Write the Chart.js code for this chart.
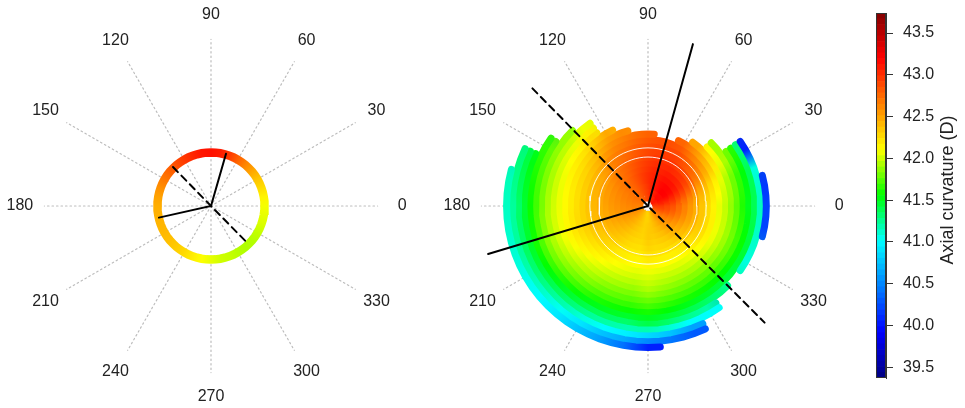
<!DOCTYPE html>
<html>
<head>
<meta charset="utf-8">
<script src="https://cdn.jsdelivr.net/npm/chart.js@4.4.1/dist/chart.umd.min.js"></script>
<style>
    body { margin: 0; background: #fff; width: 965px; height: 408px; position: relative; overflow: hidden; }
    canvas { position: absolute; top: 0; }
    #polarIzq { left: 7px; }
    #polarDer { left: 444px; }
    #barraColor { left: 860px; }
</style>
</head>
<body>
<canvas id="polarIzq" width="408" height="408"></canvas>
<canvas id="polarDer" width="408" height="408"></canvas>
<canvas id="barraColor" width="105" height="408"></canvas>
<script>
// --- DATOS ---
const angleTicks = [0, 30, 60, 90, 120, 150, 180, 210, 240, 270, 300, 330];
const cellAngles = [0, 10, 20, 30, 40, 50, 60, 70, 80, 90, 100, 110, 120, 130, 140, 150, 160, 170,
                    180, 190, 200, 210, 220, 230, 240, 250, 260, 270, 280, 290, 300, 310, 320, 330, 340, 350];

// radios de los anillos medidos (mm)
const ringRadii = [0.25, 0.42, 0.59, 0.76, 0.93, 1.10, 1.27, 1.44, 1.61, 1.78, 1.95, 2.12,
                   2.29, 2.46, 2.63, 2.80, 2.97, 3.14, 3.31, 3.48, 3.65, 3.82, 3.99, 4.16];

// curvatura axial (D) por angulo, del anillo interior al exterior
const axialByAngle = [
    [42.95, 42.95, 42.9, 42.85, 42.75, 42.65, 42.55, 42.45, 42.35, 42.25, 42.15, 42.05, 41.97, 41.87, 41.75, 41.62, 41.5, 41.38, 41.15, 40.2],
    [43.0, 43.05, 43.0, 42.95, 42.85, 42.75, 42.62, 42.5, 42.4, 42.3, 42.2, 42.1, 42.0, 41.9, 41.78, 41.65, 41.52, 41.38, 41.12, 40.15],
    [43.05, 43.1, 43.1, 43.05, 42.97, 42.88, 42.77, 42.65, 42.52, 42.4, 42.28, 42.16, 42.05, 41.93, 41.8, 41.67, 41.54, 41.38, 41.08],
    [43.1, 43.15, 43.18, 43.15, 43.08, 43.0, 42.9, 42.8, 42.68, 42.56, 42.45, 42.32, 42.18, 42.05, 41.92, 41.78, 41.62, 41.3, 40.05],
    [43.1, 43.15, 43.2, 43.18, 43.12, 43.05, 42.97, 42.88, 42.78, 42.68, 42.57, 42.44, 42.28, 42.1, 41.9],
    [43.08, 43.15, 43.2, 43.18, 43.13, 43.08, 43.0, 42.93, 42.85, 42.77, 42.68, 42.58, 42.48],
    [43.05, 43.1, 43.15, 43.15, 43.12, 43.08, 43.03, 42.98, 42.93, 42.88, 42.82, 42.76],
    [43.02, 43.05, 43.1, 43.1, 43.08, 43.05, 43.02, 42.98, 42.94, 42.9, 42.86],
    [42.98, 43.02, 43.05, 43.06, 43.05, 43.03, 43.0, 42.97, 42.93, 42.89, 42.85],
    [42.92, 42.95, 42.98, 43.0, 43.0, 42.98, 42.96, 42.93, 42.9, 42.86, 42.82, 42.78],
    [42.88, 42.9, 42.92, 42.94, 42.94, 42.92, 42.9, 42.87, 42.84, 42.8, 42.76, 42.72],
    [42.84, 42.85, 42.86, 42.87, 42.87, 42.85, 42.83, 42.8, 42.77, 42.73, 42.69, 42.65, 42.6],
    [42.8, 42.8, 42.8, 42.8, 42.8, 42.78, 42.76, 42.74, 42.71, 42.67, 42.63, 42.58, 42.53, 42.48],
    [42.76, 42.76, 42.75, 42.75, 42.74, 42.72, 42.7, 42.67, 42.64, 42.6, 42.54, 42.47, 42.4, 42.33, 42.25, 42.16, 42.07],
    [42.72, 42.72, 42.71, 42.7, 42.68, 42.66, 42.63, 42.59, 42.54, 42.48, 42.42, 42.36, 42.29, 42.22, 42.14, 42.06, 41.97, 41.88],
    [42.7, 42.7, 42.68, 42.66, 42.64, 42.61, 42.57, 42.52, 42.47, 42.41, 42.35, 42.29, 42.23, 42.17, 42.1, 42.03, 41.95, 41.86, 41.76, 41.66],
    [42.68, 42.68, 42.66, 42.64, 42.61, 42.58, 42.54, 42.49, 42.44, 42.38, 42.32, 42.26, 42.2, 42.14, 42.07, 42.0, 41.92, 41.83, 41.73, 41.63, 41.52, 41.42, 41.3],
    [42.66, 42.66, 42.64, 42.62, 42.59, 42.56, 42.52, 42.47, 42.42, 42.36, 42.3, 42.24, 42.18, 42.12, 42.06, 41.99, 41.91, 41.81, 41.7, 41.59, 41.48, 41.37, 41.26, 41.16],
    [42.64, 42.64, 42.62, 42.6, 42.57, 42.54, 42.5, 42.46, 42.41, 42.36, 42.3, 42.24, 42.18, 42.12, 42.06, 42.0, 41.92, 41.81, 41.69, 41.57, 41.45, 41.33, 41.22, 41.14],
    [42.62, 42.62, 42.6, 42.58, 42.55, 42.52, 42.48, 42.44, 42.4, 42.35, 42.3, 42.25, 42.19, 42.13, 42.07, 42.01, 41.93, 41.83, 41.71, 41.58, 41.46, 41.34, 41.22, 41.12],
    [42.6, 42.6, 42.58, 42.56, 42.53, 42.5, 42.46, 42.42, 42.38, 42.34, 42.3, 42.25, 42.2, 42.14, 42.08, 42.01, 41.93, 41.84, 41.72, 41.6, 41.47, 41.35, 41.22, 41.1],
    [42.55, 42.55, 42.53, 42.51, 42.48, 42.45, 42.42, 42.38, 42.34, 42.3, 42.25, 42.2, 42.15, 42.09, 42.03, 41.96, 41.89, 41.8, 41.69, 41.56, 41.44, 41.31, 41.18, 41.06],
    [42.5, 42.5, 42.48, 42.46, 42.43, 42.4, 42.37, 42.33, 42.29, 42.25, 42.2, 42.15, 42.09, 42.03, 41.97, 41.9, 41.83, 41.74, 41.63, 41.51, 41.38, 41.25, 41.12, 41.0],
    [42.45, 42.45, 42.43, 42.41, 42.38, 42.35, 42.32, 42.28, 42.24, 42.2, 42.15, 42.1, 42.04, 41.98, 41.92, 41.85, 41.77, 41.68, 41.57, 41.45, 41.32, 41.18, 41.03, 40.92],
    [42.4, 42.4, 42.38, 42.36, 42.33, 42.3, 42.27, 42.23, 42.19, 42.15, 42.1, 42.05, 41.99, 41.93, 41.86, 41.79, 41.71, 41.62, 41.51, 41.38, 41.24, 41.08, 40.9, 40.75],
    [42.35, 42.35, 42.34, 42.32, 42.3, 42.27, 42.24, 42.2, 42.16, 42.12, 42.07, 42.02, 41.96, 41.9, 41.83, 41.76, 41.68, 41.59, 41.48, 41.35, 41.2, 41.0, 40.75, 40.6],
    [42.3, 42.3, 42.3, 42.29, 42.28, 42.26, 42.23, 42.19, 42.15, 42.1, 42.05, 42.0, 41.94, 41.88, 41.81, 41.74, 41.66, 41.57, 41.46, 41.33, 41.17, 40.95, 40.65, 40.4],
    [42.28, 42.3, 42.32, 42.33, 42.33, 42.31, 42.28, 42.24, 42.19, 42.13, 42.07, 42.02, 41.98, 41.93, 41.86, 41.78, 41.7, 41.6, 41.5, 41.4, 41.18, 40.85, 40.5, 40.05],
    [42.35, 42.35, 42.35, 42.34, 42.32, 42.29, 42.26, 42.22, 42.17, 42.11, 42.05, 41.99, 41.94, 41.88, 41.81, 41.73, 41.65, 41.55, 41.45, 41.33, 41.1, 40.75, 40.42],
    [42.42, 42.42, 42.4, 42.38, 42.35, 42.31, 42.27, 42.22, 42.16, 42.1, 42.04, 41.98, 41.92, 41.85, 41.78, 41.7, 41.61, 41.51, 41.4, 41.25, 41.0, 40.6, 40.3],
    [42.5, 42.5, 42.47, 42.43, 42.39, 42.34, 42.29, 42.23, 42.17, 42.1, 42.04, 41.98, 41.91, 41.84, 41.76, 41.68, 41.59, 41.48, 41.35, 41.2, 41.02],
    [42.6, 42.58, 42.55, 42.51, 42.46, 42.4, 42.34, 42.27, 42.2, 42.13, 42.06, 41.99, 41.92, 41.84, 41.76, 41.67, 41.57, 41.45, 41.3],
    [42.68, 42.66, 42.62, 42.57, 42.51, 42.45, 42.38, 42.31, 42.24, 42.17, 42.1, 42.02, 41.94, 41.86, 41.77, 41.67, 41.56, 41.44],
    [42.76, 42.74, 42.69, 42.64, 42.58, 42.51, 42.44, 42.37, 42.3, 42.22, 42.14, 42.06, 41.98, 41.89, 41.8, 41.7, 41.58, 41.45, 41.08],
    [42.84, 42.83, 42.79, 42.73, 42.66, 42.58, 42.5, 42.42, 42.34, 42.25, 42.16, 42.07, 41.99, 41.9, 41.8, 41.69, 41.57, 41.43, 41.12],
    [42.9, 42.9, 42.86, 42.8, 42.72, 42.63, 42.53, 42.44, 42.35, 42.25, 42.16, 42.06, 41.98, 41.88, 41.77, 41.65, 41.53, 41.4, 41.14, 40.2]
];

// anillo medio (1.44 - 1.71 mm), curvatura por angulo
const annulusRadii = [1.44, 1.71];
const meanRingRadius = 1.575;
const meanRingValues = [42.08, 42.15, 42.25, 42.35, 42.48, 42.62, 42.78, 42.95, 43.08, 43.12, 43.1, 43.03,
                        42.95, 42.86, 42.77, 42.68, 42.58, 42.5, 42.45, 42.43, 42.42, 42.4, 42.37, 42.32,
                        42.26, 42.18, 42.1, 42.05, 42.0, 41.98, 41.95, 41.93, 41.94, 41.97, 42.02, 42.05];

// meridianos: [angulo, longitud mm]
const leftSolid = [[74, 1.60], [192.6, 1.57]];
const leftDashed = [[134.3, 1.60], [314.5, 1.57]];
const rightSolid = [[74.5, 4.94], [196.7, 4.91]];
const rightDashed = [[134.5, 4.85], [315, 4.85]];

const colorMin = 39.37;
const colorMax = 43.74;
const colorTicks = [39.5, 40.0, 40.5, 41.0, 41.5, 42.0, 42.5, 43.0, 43.5];

// --- ESTILO ---
const FUENTE = '"Liberation Sans", Arial, Helvetica, sans-serif';
const RANGO = 5.941;       // media anchura de los ejes (mm)
const RADIO_RAYOS = 4.9;
const RADIO_ETIQUETAS = 5.62;
// paleta tipo jet con verde puro en el centro
const PALETA = [[0, [0, 0, 128]], [0.125, [0, 0, 255]], [0.375, [0, 255, 255]], [0.5, [0, 255, 0]],
                [0.625, [255, 255, 0]], [0.875, [255, 0, 0]], [1, [128, 0, 0]]];

function jet(v) {
    const t = Math.min(1, Math.max(0, (v - colorMin) / (colorMax - colorMin)));
    let i = 0;
    while (i < PALETA.length - 2 && t > PALETA[i + 1][0]) i++;
    const [t0, c0] = PALETA[i];
    const [t1, c1] = PALETA[i + 1];
    const f = (t - t0) / (t1 - t0);
    const c = c0.map((x, k) => Math.round(x + (c1[k] - x) * f));
    return `rgb(${c[0]}, ${c[1]}, ${c[2]})`;
}

function polarXY(angulo, r) {
    const a = angulo * Math.PI / 180;
    return { x: r * Math.cos(a), y: r * Math.sin(a) };
}

function gradienteAnular(chart, valores) {
    const sx = chart.scales && chart.scales.x;
    const sy = chart.scales && chart.scales.y;
    if (!sx || !sy) return '#999';
    const x0 = sx.getPixelForValue(0);
    const y0 = sy.getPixelForValue(0);
    if (!Number.isFinite(x0) || !Number.isFinite(y0)) return '#999';
    const g = chart.ctx.createConicGradient(0, x0, y0);
    const paradas = [];
    cellAngles.forEach((a, i) => {
        if (valores[i] != null) paradas.push([((360 - a) % 360) / 360, valores[i]]);
    });
    paradas.sort((p, q) => p[0] - q[0]);
    paradas.forEach(p => g.addColorStop(p[0], jet(p[1])));
    if (paradas.length) g.addColorStop(1, jet(paradas[0][1]));
    return g;
}

function trazoAnillo(radio, valores) {
    const pts = [];
    const n = cellAngles.length;
    for (let j = 0; j < n; j++) {
        if (valores[j] == null) continue;
        const a = cellAngles[j];
        if (j === 0 || valores[j - 1] == null) pts.push(polarXY(a - 5, radio));
        pts.push(polarXY(a, radio));
        pts.push(polarXY(a + 5, radio));
        if (j < n - 1 && valores[j + 1] == null) pts.push({ x: null, y: null });
    }
    return pts;
}

function circulo(radio) {
    const pts = [];
    for (let a = 0; a <= 360; a += 5) pts.push(polarXY(a, radio));
    return pts;
}

function datasetRayos() {
    const pts = [];
    angleTicks.forEach(a => { pts.push({ x: 0, y: 0 }, polarXY(a, RADIO_RAYOS), { x: null, y: null }); });
    return { data: pts, showLine: true, borderColor: '#bdbdbd', borderWidth: 1.2, borderDash: [1.5, 3], order: 50 };
}

function datasetMeridiano(par, discontinuo) {
    return {
        data: [polarXY(par[0][0], par[0][1]), { x: 0, y: 0 }, polarXY(par[1][0], par[1][1])],
        showLine: true, borderColor: '#000', borderWidth: 2,
        borderDash: discontinuo ? [7, 5] : [], order: 1
    };
}

const etiquetasAngulo = {
    id: 'etiquetasAngulo',
    afterDraw(chart) {
        const { ctx, scales } = chart;
        ctx.save();
        ctx.font = `16px ${FUENTE}`;
        ctx.fillStyle = '#222';
        ctx.textAlign = 'center';
        ctx.textBaseline = 'middle';
        angleTicks.forEach(a => {
            const p = polarXY(a, RADIO_ETIQUETAS);
            ctx.fillText(String(a), scales.x.getPixelForValue(p.x), scales.y.getPixelForValue(p.y));
        });
        ctx.restore();
    }
};

function opcionesPolar() {
    return {
        responsive: false, animation: false, events: [],
        layout: { padding: { left: 2, right: 2, top: 4, bottom: 0 } },
        scales: {
            x: { type: 'linear', min: -RANGO, max: RANGO, display: false },
            y: { type: 'linear', min: -RANGO, max: RANGO, display: false }
        },
        elements: { point: { radius: 0 }, line: { tension: 0, borderCapStyle: 'round' } },
        plugins: { legend: { display: false }, tooltip: { enabled: false } }
    };
}

// --- GRAFICO IZQUIERDO ---
function dibujarPolarIzq() {
    new Chart(document.getElementById('polarIzq'), {
        type: 'scatter',
        data: {
            datasets: [
                datasetMeridiano(leftSolid, false),
                datasetMeridiano(leftDashed, true),
                {
                    data: trazoAnillo(meanRingRadius, meanRingValues), showLine: true,
                    borderWidth: 8.5, borderCapStyle: 'butt',
                    borderColor: ctx => gradienteAnular(ctx.chart, meanRingValues), order: 10
                },
                datasetRayos()
            ]
        },
        options: opcionesPolar(),
        plugins: [etiquetasAngulo]
    });
}

// --- GRAFICO DERECHO ---
function dibujarPolarDer() {
    const anillos = ringRadii.map((radio, k) => {
        const valores = cellAngles.map((a, j) => axialByAngle[j][k] ?? null);
        return {
            data: trazoAnillo(radio, valores), showLine: true, borderWidth: 7,
            borderColor: ctx => gradienteAnular(ctx.chart, valores), order: 40 - k
        };
    });
    const blancos = annulusRadii.map(r => ({
        data: circulo(r), showLine: true, borderColor: 'rgba(255,255,255,0.9)', borderWidth: 1, order: 5
    }));
    new Chart(document.getElementById('polarDer'), {
        type: 'scatter',
        data: {
            datasets: [
                datasetMeridiano(rightSolid, false),
                datasetMeridiano(rightDashed, true),
                ...blancos,
                ...anillos,
                datasetRayos()
            ]
        },
        options: opcionesPolar(),
        plugins: [etiquetasAngulo]
    });
}

// --- BARRA DE COLOR ---
const marcoYTitulo = {
    id: 'marcoYTitulo',
    afterDraw(chart) {
        const { ctx, chartArea } = chart;
        ctx.save();
        ctx.strokeStyle = '#333';
        ctx.lineWidth = 1;
        ctx.strokeRect(chartArea.left + 0.5, chartArea.top + 0.5, chartArea.width - 1, chartArea.height - 1);
        ctx.translate(88, 190);
        ctx.rotate(-Math.PI / 2);
        ctx.font = `18px ${FUENTE}`;
        ctx.fillStyle = '#222';
        ctx.textAlign = 'center';
        ctx.textBaseline = 'middle';
        ctx.fillText('Axial curvature (D)', 0, 0);
        ctx.restore();
    }
};

function dibujarBarraColor() {
    const pasos = 64;
    const bandas = [];
    for (let i = 0; i < pasos; i++) {
        const lo = colorMin + (colorMax - colorMin) * i / pasos;
        const hi = colorMin + (colorMax - colorMin) * (i + 1) / pasos;
        bandas.push({
            data: [[lo, hi]], backgroundColor: jet((lo + hi) / 2), borderWidth: 0,
            grouped: false, barPercentage: 1, categoryPercentage: 1
        });
    }
    new Chart(document.getElementById('barraColor'), {
        type: 'bar',
        data: { labels: [''], datasets: bandas },
        options: {
            responsive: false, animation: false, events: [],
            layout: { padding: { left: 16, right: 0, top: 13, bottom: 30 } },
            scales: {
                x: { display: false },
                y: {
                    position: 'right', min: colorMin, max: colorMax,
                    afterFit: s => { s.width = 79; s.paddingTop = 0; s.paddingBottom = 0; },
                    afterBuildTicks: s => { s.ticks = colorTicks.map(v => ({ value: v })); },
                    ticks: { callback: v => Number(v).toFixed(1), font: { family: FUENTE, size: 16 }, color: '#222', padding: 10 },
                    grid: { drawOnChartArea: false, drawTicks: true, tickLength: 7, color: '#333' },
                    border: { display: true, color: '#333' }
                }
            },
            plugins: { legend: { display: false }, tooltip: { enabled: false } }
        },
        plugins: [marcoYTitulo]
    });
}

dibujarPolarIzq();
dibujarPolarDer();
dibujarBarraColor();
</script>
</body>
</html>
